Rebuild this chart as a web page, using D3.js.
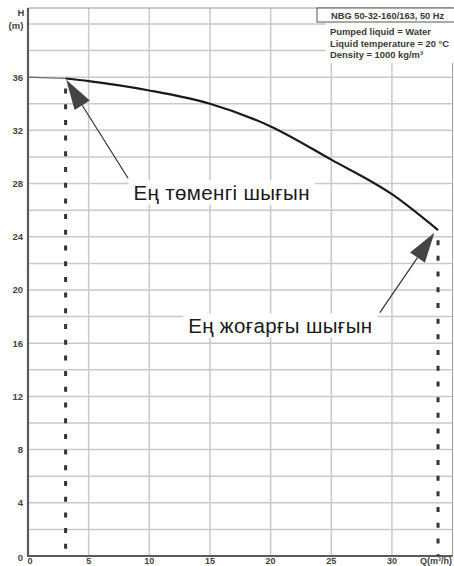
<!DOCTYPE html>
<html>
<head>
<meta charset="utf-8">
<script src="https://d3js.org/d3.v7.min.js"></script>
<style>
    body { margin: 0; background: #fff; }
    svg { display: block; font-family: 'Liberation Sans', Arial, sans-serif; }
</style>
</head>
<body>
<script>
const width = 454,
    height = 566;

// pump curve
const flow = [0, 3.1, 5, 10, 15, 20, 25, 30, 33.8];
const head = [36, 35.9, 35.7, 35.0, 34.0, 32.3, 29.8, 27.2, 24.5];

const xTicks = [0, 5, 10, 15, 20, 25, 30];
const yTicks = [0, 4, 8, 12, 16, 20, 24, 28, 32, 36];
const xGrid = [5, 10, 15, 20, 25, 30];
const yGrid = d3.range(2, 41, 2);

const minFlow = 3.1, maxFlow = 33.8;
const dropLines = [minFlow, maxFlow];

const infoTitle = 'NBG 50-32-160/163, 50 Hz';
const infoLines = ['Pumped liquid = Water', 'Liquid temperature = 20 °C', 'Density = 1000 kg/m³'];

// annotation: label, text position (Q, H), arrow start (Q, H), arrow tip (Q, H)
const notes = [
    {label: 'Ең төменгі шығын', tx: 8.7, ty: 26.8, sx: 8.25, sy: 28.4, ex: 3.15, ey: 35.8},
    {label: 'Ең жоғарғы шығын', tx: 13.2, ty: 16.8, sx: 29.0, sy: 18.3, ex: 33.5, ey: 24.3}
];

const x = d3.scaleLinear().domain([0, 35]).range([28, 452.6]);
const y = d3.scaleLinear().domain([0, 41.2]).range([556, 8]);

const svg = d3.select('body')
    .append('svg')
    .attr('width', width)
    .attr('height', height);

svg.append('rect')
    .attr('width', width)
    .attr('height', height)
    .attr('fill', '#fff');

// grid
svg.append('g')
    .selectAll('line')
    .data(yGrid)
    .enter().append('line')
    .attr('x1', x(0))
    .attr('x2', x(35))
    .attr('y1', d => y(d))
    .attr('y2', d => y(d))
    .attr('stroke', '#c9c9c9')
    .attr('stroke-width', 1.5);

svg.append('g')
    .selectAll('line')
    .data(xGrid)
    .enter().append('line')
    .attr('x1', d => x(d))
    .attr('x2', d => x(d))
    .attr('y1', y(0))
    .attr('y2', y(41.2))
    .attr('stroke', '#c9c9c9')
    .attr('stroke-width', 1.5);

// plot frame
svg.append('path')
    .attr('d', 'M' + x(0) + ',' + y(41.2) + 'H' + x(35) + 'V' + y(0))
    .attr('fill', 'none')
    .attr('stroke', '#9a9a9a')
    .attr('stroke-width', 1);

// info block
const info = svg.append('g').attr('font-weight', 'bold').attr('fill', '#3a3a3a');
info.append('rect')
    .attr('x', 326).attr('y', 22)
    .attr('width', 128).attr('height', 41)
    .attr('fill', '#fff');
info.append('rect')
    .attr('x', 317).attr('y', 8)
    .attr('width', 140).attr('height', 14)
    .attr('fill', '#fff')
    .attr('stroke', '#555')
    .attr('stroke-width', 1);
info.append('text')
    .attr('x', 331).attr('y', 18.5)
    .attr('font-size', 9.3)
    .text(infoTitle);
info.selectAll('text.line')
    .data(infoLines)
    .enter().append('text')
    .attr('class', 'line')
    .attr('x', 330)
    .attr('y', (d, i) => 35 + i * 11.5)
    .attr('font-size', 9.4)
    .text(d => d);

// axes
const axisColor = '#5a5a5a';
svg.append('line')
    .attr('x1', x(0)).attr('x2', x(0))
    .attr('y1', y(41.2)).attr('y2', y(0) + 1)
    .attr('stroke', axisColor).attr('stroke-width', 2.2);
svg.append('line')
    .attr('x1', x(0) - 1).attr('x2', x(35))
    .attr('y1', y(0)).attr('y2', y(0))
    .attr('stroke', axisColor).attr('stroke-width', 2.2);

const labels = svg.append('g')
    .attr('font-size', 9.5)
    .attr('font-weight', 'bold')
    .attr('fill', '#444');

labels.selectAll('text.y')
    .data(yTicks)
    .enter().append('text')
    .attr('class', 'y')
    .attr('x', 23)
    .attr('y', d => y(d) + 3.5 + (d === 0 ? 1 : 0))
    .attr('text-anchor', 'end')
    .text(d => d);

labels.selectAll('text.x')
    .data(xTicks)
    .enter().append('text')
    .attr('class', 'x')
    .attr('x', d => x(d) + (d === 0 ? 2 : 0))
    .attr('y', 563.5)
    .attr('font-size', 9)
    .attr('text-anchor', 'middle')
    .text(d => d);

labels.append('text')
    .attr('x', 420).attr('y', 563.5)
    .attr('font-size', 9)
    .text('Q(m³/h)');
labels.append('text')
    .attr('x', 21).attr('y', 16)
    .attr('text-anchor', 'middle')
    .text('H');
labels.append('text')
    .attr('x', 16).attr('y', 29)
    .attr('text-anchor', 'middle')
    .text('(m)');

// curve
const pts = flow.map((q, i) => [q, head[i]]);
const line = d3.line()
    .x(d => x(d[0]))
    .y(d => y(d[1]))
    .curve(d3.curveMonotoneX);

svg.append('path')
    .datum(pts.filter(d => d[0] <= minFlow))
    .attr('d', line)
    .attr('fill', 'none')
    .attr('stroke', '#666')
    .attr('stroke-width', 1.2);

svg.append('path')
    .datum(pts.filter(d => d[0] >= minFlow))
    .attr('d', line)
    .attr('fill', 'none')
    .attr('stroke', '#1a1a1a')
    .attr('stroke-width', 2.2);

// dashed drop lines
svg.append('g')
    .selectAll('line')
    .data(dropLines)
    .enter().append('line')
    .attr('x1', d => x(d))
    .attr('x2', d => x(d))
    .attr('y1', d => y(head[flow.indexOf(d)]) + 10)
    .attr('y2', y(0))
    .attr('stroke', '#333')
    .attr('stroke-width', 3)
    .attr('stroke-dasharray', '5,10.7');

// annotations
notes.forEach(function (n) {
    const sx = x(n.sx), sy = y(n.sy), ex = x(n.ex), ey = y(n.ey);
    const ang = Math.atan2(ey - sy, ex - sx);
    const len = 30, half = 9;
    const bx = ex - len * Math.cos(ang), by = ey - len * Math.sin(ang);
    const px = -Math.sin(ang) * half, py = Math.cos(ang) * half;

    svg.append('line')
        .attr('x1', sx).attr('y1', sy)
        .attr('x2', bx).attr('y2', by)
        .attr('stroke', '#333')
        .attr('stroke-width', 1.2);
    svg.append('path')
        .attr('d', 'M' + ex + ',' + ey + 'L' + (bx + px) + ',' + (by + py) + 'L' + (bx - px) + ',' + (by - py) + 'Z')
        .attr('fill', '#444');

    const t = svg.append('text')
        .attr('x', x(n.tx))
        .attr('y', y(n.ty))
        .attr('font-size', 20.5)
        .attr('letter-spacing', 0.35)
        .attr('fill', '#1a1a1a')
        .text(n.label);
    const bb = t.node().getBBox();
    svg.insert('rect', () => t.node())
        .attr('x', bb.x - 5)
        .attr('y', bb.y)
        .attr('width', bb.width + 10)
        .attr('height', bb.height + 1)
        .attr('fill', '#fff');
});
</script>
</body>
</html>
